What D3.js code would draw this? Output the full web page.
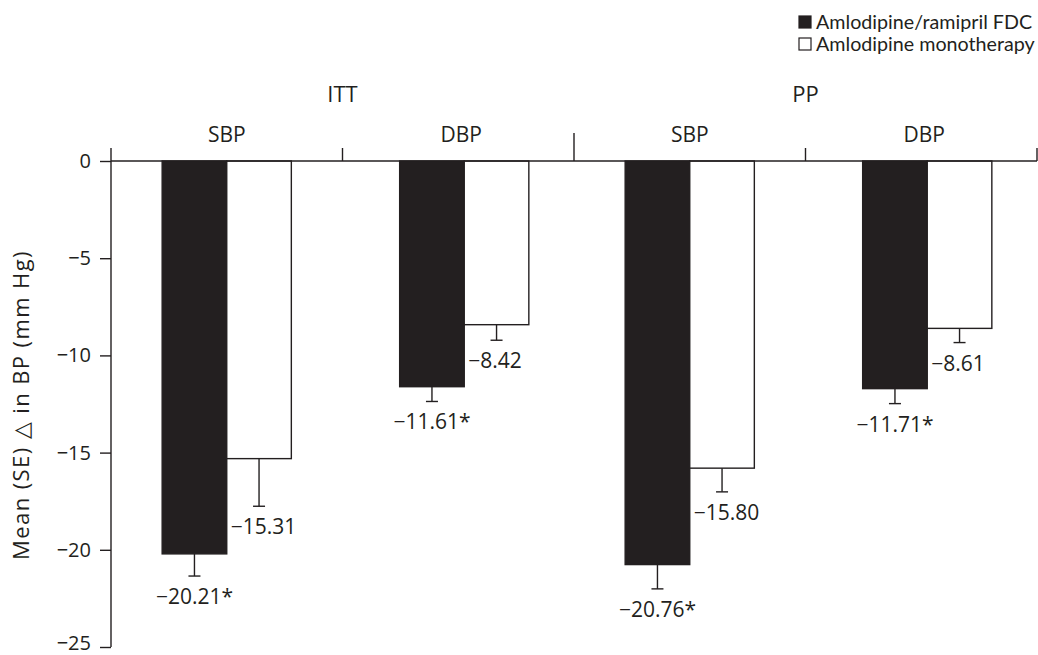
<!DOCTYPE html>
<html>
<head>
<meta charset="utf-8">
<script src="https://cdn.jsdelivr.net/npm/d3@7.9.0/dist/d3.min.js"></script>
<style>
  body { margin: 0; background: #fff; }
  svg { display: block; font-family: "Open Sans", sans-serif; }
</style>
</head>
<body>
<svg id="chart" width="1038" height="655"></svg>
<script>
// Data
const populations = ["ITT", "PP"];
const measures = ["SBP", "DBP"];
const groups = ["ITT SBP", "ITT DBP", "PP SBP", "PP DBP"];
const series = ["Amlodipine/ramipril FDC", "Amlodipine monotherapy"];
const fdcValues = [-20.21, -11.61, -20.76, -11.71];
const monoValues = [-15.31, -8.42, -15.80, -8.61];
const fdcSE = [1.14, 0.76, 1.25, 0.77];
const monoSE = [2.45, 0.80, 1.22, 0.73];
const fdcSignificant = [true, true, true, true];
const yTicks = [0, -5, -10, -15, -20, -25];

const ink = "#231f20";
const svg = d3.select("#chart");

// Scales
const x0 = d3.scaleBand().domain(groups).range([111, 1037]);
const gw = x0.bandwidth();
const x1 = d3.scaleBand().domain(series).range([gw * 0.221, gw * 0.779]);
const y = d3.scaleLinear().domain([-25, 0]).range([647, 161]);

// DBP pairs sit a little right of their group centre in the original
const pairShift = g => g.endsWith("DBP") ? 6 : 0;
const barX = d => x0(d.group) + x1(d.s) + pairShift(d.group);

// Build rows from the arrays
const rows = [];
groups.forEach((g, i) => {
  rows.push({ group: g, s: series[0], v: fdcValues[i], se: fdcSE[i], sig: fdcSignificant[i] });
  rows.push({ group: g, s: series[1], v: monoValues[i], se: monoSE[i], sig: false });
});

// Bars
const bars = svg.append("g");
bars.selectAll("rect")
  .data(rows)
  .join("rect")
  .attr("x", barX)
  .attr("y", y(0))
  .attr("width", x1.bandwidth())
  .attr("height", d => y(d.v) - y(0))
  .attr("fill", d => d.s === series[0] ? ink : "#fff")
  .attr("stroke", ink)
  .attr("stroke-width", 1.4);

// Error bars (downward only)
const err = svg.append("g").attr("stroke", ink).attr("stroke-width", 1.4);
rows.forEach(d => {
  const cx = barX(d) + x1.bandwidth() / 2;
  err.append("line")
    .attr("x1", cx).attr("x2", cx)
    .attr("y1", y(d.v)).attr("y2", y(d.v - d.se));
  err.append("line")
    .attr("x1", cx - 6).attr("x2", cx + 6)
    .attr("y1", y(d.v - d.se)).attr("y2", y(d.v - d.se));
});

// Value labels
const fmt = d3.format(".2f");
svg.append("g")
  .selectAll("text")
  .data(rows)
  .join("text")
  .attr("x", d => d.s === series[0] ? barX(d) + x1.bandwidth() / 2 : barX(d) + 4)
  .attr("y", d => y(d.v - d.se) + 28)
  .attr("text-anchor", d => d.s === series[0] ? "middle" : "start")
  .attr("font-size", 21)
  .attr("fill", ink)
  .text(d => fmt(d.v) + (d.sig ? "*" : ""));

// Y axis
const yAxis = svg.append("g").attr("transform", "translate(111,0)")
  .call(d3.axisLeft(y).tickValues(yTicks).tickFormat(d3.format("d")).tickSize(11).tickPadding(9));
yAxis.select(".domain").remove();
yAxis.selectAll(".tick line").attr("stroke", ink).attr("stroke-width", 1.4);
yAxis.selectAll(".tick text").attr("font-size", 20).attr("fill", ink).attr("font-family", "Open Sans");
// keep the bottom label inside the page
yAxis.selectAll(".tick text").filter(d => d === -25).attr("dy", "0.12em");
yAxis.append("line")
  .attr("x1", 0).attr("x2", 0).attr("y1", 148).attr("y2", y(-25))
  .attr("stroke", ink).attr("stroke-width", 1.4);

// Zero line with group separators
const zeroLine = svg.append("g").attr("stroke", ink).attr("stroke-width", 1.4);
zeroLine.append("line")
  .attr("x1", 111).attr("x2", 1037).attr("y1", y(0)).attr("y2", y(0));
groups.forEach((g, i) => {
  const xe = x0(g) + gw;
  zeroLine.append("line")
    .attr("x1", xe).attr("x2", xe)
    .attr("y1", y(0)).attr("y2", i === 1 ? 133 : 148);
});

// Measure headers (SBP/DBP)
svg.append("g")
  .selectAll("text")
  .data(groups)
  .join("text")
  .attr("x", g => x0(g) + gw / 2 + pairShift(g) / 2)
  .attr("y", 142)
  .attr("text-anchor", "middle")
  .attr("font-size", 21)
  .attr("fill", ink)
  .text((g, i) => measures[i % 2]);

// Population headers (ITT/PP)
svg.append("g")
  .selectAll("text")
  .data(populations)
  .join("text")
  .attr("x", (p, i) => x0(groups[i * 2]) + gw)
  .attr("y", 102)
  .attr("text-anchor", "middle")
  .attr("font-size", 22)
  .attr("fill", ink)
  .text(p => p);

// Y axis title
svg.append("text")
  .attr("transform", "translate(29,405) rotate(-90)")
  .attr("text-anchor", "middle")
  .attr("font-size", 22)
  .attr("letter-spacing", 1.4)
  .attr("fill", ink)
  .text("Mean (SE) \u25B3 in BP (mm Hg)");

// Legend
const legend = svg.append("g").attr("font-family", "Lato, sans-serif");
series.forEach((s, i) => {
  const ly = 29 + i * 22;
  legend.append("rect")
    .attr("x", 799).attr("y", ly - 13)
    .attr("width", 12).attr("height", 12)
    .attr("fill", i === 0 ? ink : "#fff")
    .attr("stroke", ink).attr("stroke-width", 1.2);
  legend.append("text")
    .attr("x", 816).attr("y", ly)
    .attr("font-size", 19.7)
    .attr("fill", ink)
    .text(s);
});
</script>
</body>
</html>
